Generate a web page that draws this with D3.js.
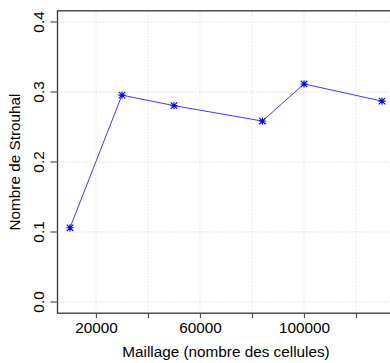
<!DOCTYPE html>
<html><head><meta charset="utf-8">
<script src="https://cdn.jsdelivr.net/npm/d3@7"></script>
<style>html,body{margin:0;padding:0;background:#fff;overflow:hidden}svg{display:block}</style>
</head><body>
<script>
const meshSizes = [10000, 30000, 50000, 84000, 100000, 130000];
const strouhal = [0.106, 0.2955, 0.2805, 0.2585, 0.3115, 0.287];
const xTicks = [20000, 40000, 60000, 80000, 100000, 120000];
const xLabelled = [20000, 60000, 100000];
const yTicks = [0.0, 0.1, 0.2, 0.3, 0.4];
const xTitle = "Maillage (nombre des cellules)";
const yTitle = "Nombre de Strouhal";

const W = 390, H = 363;
const svg = d3.select("body").append("svg").attr("width", W).attr("height", H);
const font = "'Liberation Sans', Arial, sans-serif";
const fs = 15.3;

const x = d3.scaleLinear().domain([5200, 134800]).range([57.5, 394.5]);
const y = d3.scaleLinear().domain([-0.016, 0.416]).range([313.2, 10.8]);

const g = svg.append("g");
// grid
g.selectAll(".gx").data(xTicks).join("line")
  .attr("x1", d => x(d)).attr("x2", d => x(d)).attr("y1", y(-0.016)).attr("y2", y(0.416))
  .attr("stroke", "#d3d3d3").attr("stroke-dasharray", "1,2").attr("stroke-width", 1);
g.selectAll(".gy").data(yTicks).join("line")
  .attr("y1", d => y(d)).attr("y2", d => y(d)).attr("x1", x(5200)).attr("x2", x(134800))
  .attr("stroke", "#d3d3d3").attr("stroke-dasharray", "1,2").attr("stroke-width", 1);

// box
g.append("rect").attr("x", x(5200)).attr("y", y(0.416))
  .attr("width", x(134800) - x(5200)).attr("height", y(-0.016) - y(0.416))
  .attr("fill", "none").attr("stroke", "#333").attr("stroke-width", 1.3);

// axes
const xAxis = d3.axisBottom(x).tickValues(xTicks).tickSize(5).tickPadding(4)
  .tickFormat(d => xLabelled.includes(d) ? d3.format("d")(d) : "");
const ax = svg.append("g").attr("transform", `translate(0,${y(-0.016)})`).call(xAxis);
ax.select(".domain").remove();
ax.selectAll("line").attr("stroke", "#555").attr("stroke-width", 1.2);
ax.selectAll("text").attr("font-family", font).attr("font-size", fs).attr("fill", "#000");

const yAxis = d3.axisLeft(y).tickValues(yTicks).tickSize(7).tickPadding(4)
  .tickFormat(d3.format(".1f"));
const ay = svg.append("g").attr("transform", `translate(${x(5200)},0)`).call(yAxis);
ay.select(".domain").remove();
ay.selectAll(".tick").attr("transform", "translate(0,0)");
ay.selectAll(".tick line").attr("stroke", "#777").attr("stroke-width", 1.5)
  .attr("y1", d => y(d)).attr("y2", d => y(d)).attr("x1", 0).attr("x2", -7);
ay.selectAll(".tick text").attr("font-family", font).attr("font-size", fs).attr("fill", "#000")
  .attr("transform", "rotate(-90)").attr("text-anchor", "middle").attr("dy", "0")
  .attr("x", d => -y(d)).attr("y", -13.5);

// titles
svg.append("text").attr("x", 226).attr("y", 357).attr("text-anchor", "middle")
  .attr("font-family", font).attr("font-size", fs).attr("fill", "#000").text(xTitle);
svg.append("text").attr("transform", `translate(20,${y(0.2)}) rotate(-90)`).attr("text-anchor", "middle")
  .attr("font-family", font).attr("font-size", fs).attr("fill", "#000").text(yTitle);

// line
const data = meshSizes.map((m, i) => ({m, s: strouhal[i]}));
svg.append("path").datum(data)
  .attr("d", d3.line().x(d => x(d.m)).y(d => y(d.s)))
  .attr("fill", "none").attr("stroke", "#3a3aff").attr("stroke-width", 1);

// asterisk markers (R pch 8: plus + cross)
const r = 3.6, rd = 3.2;
const starPath = `M${-r},0L${r},0M0,${-r}L0,${r}M${-rd},${-rd}L${rd},${rd}M${-rd},${rd}L${rd},${-rd}`;
svg.append("g").selectAll("path").data(data).join("path")
  .attr("transform", d => `translate(${x(d.m)},${y(d.s)})`)
  .attr("d", starPath).attr("stroke", "#0000ff").attr("stroke-width", 1.1).attr("fill", "none");
</script>
</body></html>
